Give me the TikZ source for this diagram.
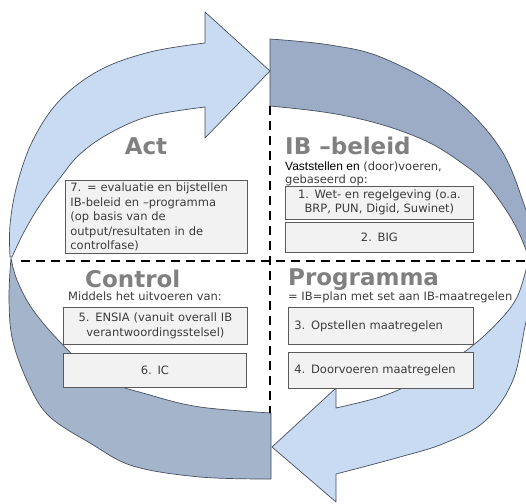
\documentclass[tikz,border=0pt]{standalone}
\usepackage{fontspec}
\setmainfont{DejaVu Sans}
\newfontfamily\arialf{Liberation Sans}
\definecolor{lightblue}{RGB}{200,219,243}
\definecolor{darkblue}{RGB}{156,172,198}
\definecolor{darkblueb}{RGB}{164,180,203}
\definecolor{edgecol}{RGB}{70,80,95}
\definecolor{boxfill}{RGB}{242,242,242}
\definecolor{boxedge}{RGB}{90,90,90}
\definecolor{titlegray}{RGB}{128,128,128}
\definecolor{textcol}{RGB}{60,60,60}
\begin{document}
\begin{tikzpicture}[x=1pt,y=-1pt,
  arrowlight/.style={fill=lightblue, draw=edgecol, line width=0.7pt, line join=round},
  arrowdark/.style={fill=darkblue, draw=edgecol, line width=0.7pt, line join=round},
  box/.style={fill=boxfill, draw=boxedge, line width=0.8pt, inner ysep=0pt, font=\fontsize{11.5}{14.5}\selectfont, text=textcol},
  title/.style={font=\fontsize{23}{23}\selectfont\bfseries, text=titlegray, inner sep=0pt},
  body/.style={font=\fontsize{11.5}{14}\selectfont, text=textcol, inner sep=0pt},
  divider/.style={line width=2pt, dash pattern=on 9pt off 6pt}]
\fill[white] (0,0) rectangle (526,503);
\useasboundingbox (0,0) rectangle (526,503);
\begin{scope}
\clip (0,0) rectangle (526,503);
% top-left light arrow (Act)
\filldraw[arrowlight] (10,257) -- plot[smooth, tension=0.6] coordinates {(10,257) (10,225) (17,185) (33,140) (60,100) (100,70) (150,52) (205,43)}
  -- (205,12) -- (270,71) -- (205,138) -- (205,107)
  -- plot[smooth, tension=0.6] coordinates {(205,107) (150,116) (110,133) (80,154) (60,178) (40,205) (24,232) (12,257)} -- cycle;
% top-right dark arrow
\filldraw[arrowdark] (270,39) -- plot[smooth, tension=0.6] coordinates {(270,39) (330,45) (383,58) (450,95) (500,148) (526,210) (536,245) (529,258)}
  -- plot[smooth, tension=0.6] coordinates {(529,258) (519,233) (506,210) (486,183) (466,166) (430,143) (383,125) (330,113) (270,106)} -- cycle;
% bottom-right light arrow (Programma)
\filldraw[arrowlight] (529,258) -- plot[smooth, tension=0.6] coordinates {(529,258) (536,290) (526,322) (513,380) (485,421) (445,443) (400,457) (336,474)}
  -- (336,502) -- (272,447) -- (336,388) -- (336,408)
  -- plot[smooth, tension=0.6] coordinates {(336,408) (383,396) (420,379) (467,350) (500,320) (518,295) (529,258)} -- cycle;
% bottom-left dark arrow (Control)
\filldraw[arrowdark, fill=darkblueb] (271,413) -- plot[smooth, tension=0.6] coordinates {(271,413) (200,407) (150,395) (100,378) (63,345) (33,310) (17,280) (11,258)}
  -- plot[smooth, tension=0.6] coordinates {(11,258) (9,300) (13,342) (30,387) (50,417) (90,443) (133,466) (200,477) (271,479)} -- cycle;
\end{scope}
% dividers
\coordinate (vtop) at (270,106);
\coordinate (vbot) at (270,413);
\coordinate (hleft) at (21,261);
\coordinate (hright) at (526,261);
\draw[divider] (vtop) -- (vbot);
\draw[divider] (hleft) -- (hright);
% Act
\node[title, anchor=base] (act) at (146,154.5) {Act};
\node[box, anchor=north west, minimum width=182pt, minimum height=73pt, text width=172pt, inner xsep=5pt, align=left] (b7) at (65,180)
  {7. = evaluatie en bijstellen\\IB-beleid en –programma\\(op basis van de\\output/resultaten in de\\controlfase)};
% IB-beleid
\node[title, anchor=base west] (ib) at (285,154.5) {IB –beleid};
\node[body, anchor=base west] (vast) at (285,170) {{\arialf\color{black}\fontsize{12}{14}\selectfont Vaststellen en} (door)voeren,};
\node[body, anchor=base west] (geb) at (285,183.5) {gebaseerd op:};
\node[box, anchor=north west, minimum width=188pt, minimum height=33pt, text width=180pt, inner xsep=4pt, align=center] (b1) at (285,185.5)
  {1. Wet- en regelgeving (o.a.\\BRP, PUN, Digid, Suwinet)};
\node[box, anchor=north west, minimum width=188pt, minimum height=30pt, text width=180pt, inner xsep=4pt, align=center] (b2) at (285,222)
  {2. BIG};
% Control
\node[title, anchor=base west] (ctl) at (85,287) {Control};
\node[body, anchor=base west] (mid) at (68,300) {Middels het uitvoeren van:};
\node[box, anchor=north west, minimum width=184pt, minimum height=37pt, text width=176pt, inner xsep=4pt, align=center] (b5) at (63,307)
  {5. ENSIA (vanuit overall IB\\verantwoordingsstelsel)};
\node[box, anchor=north west, minimum width=183pt, minimum height=34pt, text width=175pt, inner xsep=4pt, align=center] (b6) at (63,353)
  {6. IC};
% Programma
\node[title, anchor=base west] (prg) at (288,285) {Programma};
\node[body, anchor=base west] (plan) at (288,300) {= IB=plan met set aan IB-maatregelen};
\node[box, anchor=north west, minimum width=185pt, minimum height=37pt, text width=173pt, inner xsep=6pt, align=left] (b3) at (288,307)
  {3. Opstellen maatregelen};
\node[box, anchor=north west, minimum width=185pt, minimum height=36pt, text width=173pt, inner xsep=6pt, align=left] (b4) at (288,352)
  {4. Doorvoeren maatregelen};
\end{tikzpicture}
\end{document}
